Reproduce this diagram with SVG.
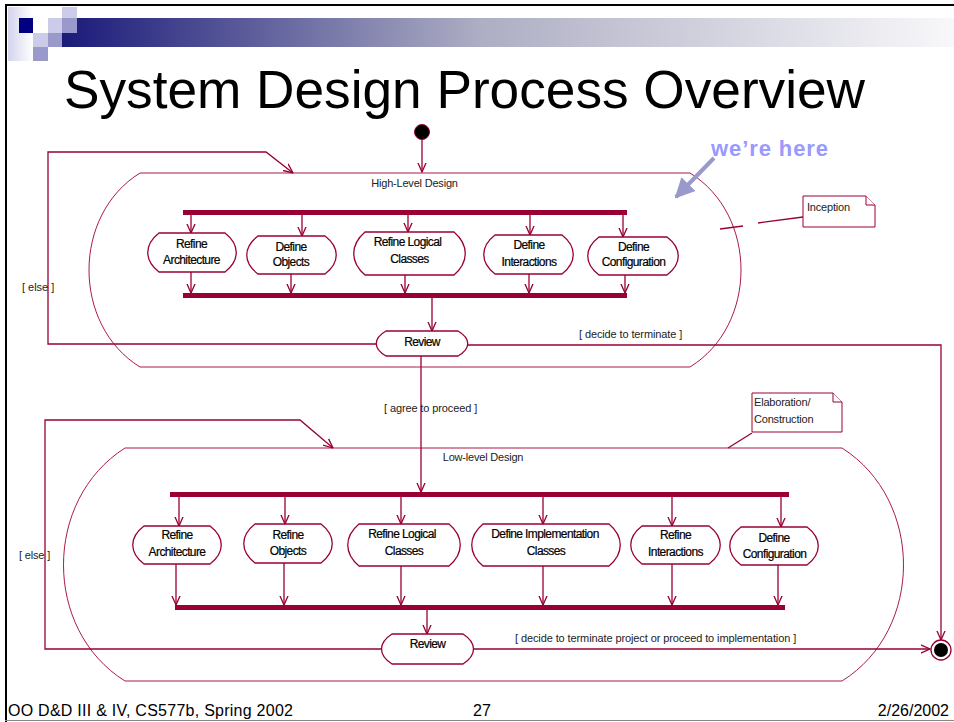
<svg xmlns="http://www.w3.org/2000/svg" width="954" height="722" viewBox="0 0 954 722">
<defs>
<linearGradient id="band" x1="62" y1="0" x2="954" y2="0" gradientUnits="userSpaceOnUse">
<stop offset="0" stop-color="#1a1a7a"/>
<stop offset="0.47" stop-color="#aeaec4"/>
<stop offset="1" stop-color="#f8f8fa"/>
</linearGradient>
<linearGradient id="pale" x1="0" y1="0" x2="1" y2="0">
<stop offset="0" stop-color="#d4d4ec"/>
<stop offset="1" stop-color="#ffffff"/>
</linearGradient>
<marker id="open" viewBox="0 0 10 10" refX="9.5" refY="5" markerWidth="10" markerHeight="10" markerUnits="userSpaceOnUse" orient="auto">
<path d="M0,0.8 L9.5,5 L0,9.2" fill="none" stroke="#990033" stroke-width="1.3"/>
</marker>
<marker id="solid" viewBox="0 0 10 10" refX="9" refY="5" markerWidth="5" markerHeight="5" orient="auto">
<path d="M0,0 L10,5 L0,10 Z" fill="#9999cc"/>
</marker>
</defs>
<style>
.c{fill:none;stroke:#990033;stroke-width:1.3}
.ss{fill:none;stroke:#aa1a4a;stroke-width:1}
.n{fill:#ffffff;stroke:#990033;stroke-width:1.3}
.bar{fill:#990033}
.t{font-family:"Liberation Sans",Arial,sans-serif;font-size:12px;letter-spacing:-0.6px;fill:#000;stroke:#000;stroke-width:0.2px;text-anchor:middle}
.g{font-family:"Liberation Sans",Arial,sans-serif;font-size:11px;letter-spacing:-0.2px;fill:#222}
.note{fill:#ffffff;stroke:#990033;stroke-width:1}
.f{font-family:"Liberation Sans",Arial,sans-serif;font-size:16px;fill:#000}
</style>
<rect width="954" height="722" fill="#ffffff"/>
<!-- slide frame -->
<line x1="5" y1="5" x2="954" y2="5" stroke="#000" stroke-width="2"/>
<line x1="6" y1="4" x2="6" y2="722" stroke="#000" stroke-width="2"/>
<line x1="5" y1="720.5" x2="954" y2="720.5" stroke="#888" stroke-width="1"/>
<!-- logo -->
<rect x="62" y="18" width="892" height="29" fill="url(#band)"/>
<rect x="8" y="7" width="25" height="54" fill="url(#pale)"/>
<rect x="19" y="18" width="14" height="15" fill="#000080"/>
<rect x="33" y="18" width="15" height="15" fill="#ffffff"/>
<rect x="48" y="18" width="14" height="15" fill="#ccccea"/>
<rect x="62" y="7" width="15" height="11" fill="#ccccea"/>
<rect x="62" y="18" width="15" height="15" fill="#9999cc"/>
<rect x="33" y="33" width="15" height="14" fill="#ccccea"/>
<rect x="48" y="33" width="14" height="14" fill="#9999cc"/>
<rect x="33" y="47" width="15" height="14" fill="#9999cc"/>
<!-- title -->
<text x="64" y="108" font-family="&quot;Liberation Sans&quot;,Arial,sans-serif" font-size="53" textLength="801" lengthAdjust="spacingAndGlyphs" fill="#000">System Design Process Overview</text>

<!-- superstates -->
<g id="high-level-design">
<path class="ss" d="M140,173 H690 C758,215 758,325 690,367 H140 C72,325 72,215 140,173 Z"/>
<text x="414.5" y="187" class="g" text-anchor="middle" fill="#333">High-Level Design</text>
</g>
<g id="low-level-design">
<path class="ss" d="M125,448 H842 C924,500 924,630 842,681 H125 C43,630 43,500 125,448 Z"/>
<text x="483" y="461" class="g" text-anchor="middle" fill="#333">Low-level Design</text>
</g>

<!-- connectors -->
<g id="connectors">
<path class="c" d="M422,139 V172" marker-end="url(#open)"/>
<path class="c" d="M191,215 V233" marker-end="url(#open)"/>
<path class="c" d="M302,215 V236" marker-end="url(#open)"/>
<path class="c" d="M408,215 V232" marker-end="url(#open)"/>
<path class="c" d="M530,215 V235" marker-end="url(#open)"/>
<path class="c" d="M623,215 V237" marker-end="url(#open)"/>
<path class="c" d="M191,272 V293" marker-end="url(#open)"/>
<path class="c" d="M291,274 V293" marker-end="url(#open)"/>
<path class="c" d="M405,275 V293" marker-end="url(#open)"/>
<path class="c" d="M529,274 V293" marker-end="url(#open)"/>
<path class="c" d="M625,275 V293" marker-end="url(#open)"/>
<path class="c" d="M432,298 V331" marker-end="url(#open)"/>
<path class="c" d="M376,344 H48 V152 H266 L293,173" marker-end="url(#open)"/>
<path class="c" d="M468,345 H941 V640" marker-end="url(#open)"/>
<path class="c" d="M421,356 V492" marker-end="url(#open)"/>
<path class="c" d="M179,497 V526" marker-end="url(#open)"/>
<path class="c" d="M285,497 V524" marker-end="url(#open)"/>
<path class="c" d="M401,497 V524" marker-end="url(#open)"/>
<path class="c" d="M543,497 V524" marker-end="url(#open)"/>
<path class="c" d="M672,497 V526" marker-end="url(#open)"/>
<path class="c" d="M781,497 V527" marker-end="url(#open)"/>
<path class="c" d="M176,564 V605" marker-end="url(#open)"/>
<path class="c" d="M284,563 V605" marker-end="url(#open)"/>
<path class="c" d="M401,566 V605" marker-end="url(#open)"/>
<path class="c" d="M543,566 V605" marker-end="url(#open)"/>
<path class="c" d="M672,564 V605" marker-end="url(#open)"/>
<path class="c" d="M778,565 V605" marker-end="url(#open)"/>
<path class="c" d="M427,610 V634" marker-end="url(#open)"/>
<path class="c" d="M381,649 H45 V420 H300 L333,448" marker-end="url(#open)"/>
<path class="c" d="M474,649 H930" marker-end="url(#open)"/>
<path class="c" stroke-width="1" d="M803,217 L758,223"/>
<path class="c" stroke-width="1" d="M743,226 L720,229"/>
<path class="c" stroke-width="1" d="M752,433 L728,448"/>
<text class="g" x="22" y="291" textLength="32" lengthAdjust="spacing">[ else ]</text>
<text class="g" x="19" y="559" textLength="31" lengthAdjust="spacing">[ else ]</text>
<text class="g" x="579" y="338" textLength="103" lengthAdjust="spacing">[ decide to terminate ]</text>
<text class="g" x="384" y="412" textLength="93" lengthAdjust="spacing">[ agree to proceed ]</text>
<text class="g" x="515" y="642" textLength="281" lengthAdjust="spacing">[ decide to terminate project or proceed to implementation ]</text>
</g>

<g id="initial">
<circle cx="422" cy="132" r="7.5" fill="#000" stroke="#990033" stroke-width="1"/>
</g>
<g id="final">
<circle cx="941" cy="650" r="10" fill="#fff" stroke="#990033" stroke-width="1.3"/>
<circle cx="941" cy="650" r="7" fill="#000"/>
</g>

<g id="fork-high"><rect class="bar" x="183" y="210" width="444" height="5"/></g>
<g id="join-high"><rect class="bar" x="183" y="293" width="444" height="5"/></g>
<g id="fork-low"><rect class="bar" x="170" y="492" width="619" height="5"/></g>
<g id="join-low"><rect class="bar" x="175" y="605" width="610" height="5"/></g>

<g id="h-refine-architecture">
<path class="n" d="M159,233 H225 C240,244.7 240,260.3 225,272 H159 C144,260.3 144,244.7 159,233 Z"/>
<text class="t" x="191.5" y="248">Refine</text><text class="t" x="191.5" y="264">Architecture</text>
</g>
<g id="h-define-objects">
<path class="n" d="M258,236 H325 C340,247.4 340,262.6 325,274 H258 C243,262.6 243,247.4 258,236 Z"/>
<text class="t" x="291" y="250.5">Define</text><text class="t" x="291" y="266">Objects</text>
</g>
<g id="h-refine-logical-classes">
<path class="n" d="M365,232 H454 C469,244.9 469,262.1 454,275 H365 C350,262.1 350,244.9 365,232 Z"/>
<text class="t" x="407.5" y="246">Refine Logical</text><text class="t" x="409.5" y="262.5">Classes</text>
</g>
<g id="h-define-interactions">
<path class="n" d="M495,235 H562 C577,246.7 577,262.3 562,274 H495 C480,262.3 480,246.7 495,235 Z"/>
<text class="t" x="529" y="249">Define</text><text class="t" x="529" y="266">Interactions</text>
</g>
<g id="h-define-configuration">
<path class="n" d="M599,237 H667 C682,248.4 682,263.6 667,275 H599 C584,263.6 584,248.4 599,237 Z"/>
<text class="t" x="633.5" y="251">Define</text><text class="t" x="633.5" y="266">Configuration</text>
</g>
<g id="h-review">
<path class="n" d="M386,331 H458 C471,338.5 471,348.5 458,356 H386 C373,348.5 373,338.5 386,331 Z"/>
<text class="t" x="422" y="346">Review</text>
</g>

<g id="l-refine-architecture">
<path class="n" d="M144,526 H210 C225,537.4 225,552.6 210,564 H144 C129,552.6 129,537.4 144,526 Z"/>
<text class="t" x="177" y="539">Refine</text><text class="t" x="177" y="555.5">Architecture</text>
</g>
<g id="l-refine-objects">
<path class="n" d="M255,524 H321 C336,535.7 336,551.3 321,563 H255 C240,551.3 240,535.7 255,524 Z"/>
<text class="t" x="288" y="539">Refine</text><text class="t" x="288" y="555">Objects</text>
</g>
<g id="l-refine-logical-classes">
<path class="n" d="M359,524 H449 C464,536.6 464,553.4 449,566 H359 C344,553.4 344,536.6 359,524 Z"/>
<text class="t" x="402" y="538">Refine Logical</text><text class="t" x="404" y="555">Classes</text>
</g>
<g id="l-define-implementation-classes">
<path class="n" d="M483,524 H609 C624,536.6 624,553.4 609,566 H483 C468,553.4 468,536.6 483,524 Z"/>
<text class="t" x="545" y="538">Define Implementation</text><text class="t" x="546" y="555">Classes</text>
</g>
<g id="l-refine-interactions">
<path class="n" d="M642,526 H709 C724,537.4 724,552.6 709,564 H642 C627,552.6 627,537.4 642,526 Z"/>
<text class="t" x="675.5" y="539">Refine</text><text class="t" x="675.5" y="555.5">Interactions</text>
</g>
<g id="l-define-configuration">
<path class="n" d="M741,527 H807 C822,538.4 822,553.6 807,565 H741 C726,553.6 726,538.4 741,527 Z"/>
<text class="t" x="774" y="541.5">Define</text><text class="t" x="774.5" y="557.5">Configuration</text>
</g>
<g id="l-review">
<path class="n" d="M392,634 H463 C477,643 477,655 463,664 H392 C378,655 378,643 392,634 Z"/>
<text class="t" x="427.5" y="648">Review</text>
</g>

<g id="note-inception">
<path class="note" d="M803,196 H866 L875,205 V227 H803 Z"/>
<path class="note" d="M866,196 V205 H875"/>
<text class="g" x="807" y="211">Inception</text>
</g>
<g id="note-elaboration">
<path class="note" d="M752,393 H833 L842,402 V432 H752 Z"/>
<path class="note" d="M833,393 V402 H842"/>
<text class="g" x="754" y="406">Elaboration/</text>
<text class="g" x="754" y="423">Construction</text>
</g>

<g id="were-here">
<text x="711" y="156" font-family="&quot;Liberation Sans&quot;,Arial,sans-serif" font-size="22" font-weight="bold" fill="#9999ff" textLength="117" lengthAdjust="spacing">we’re here</text>
<line x1="714" y1="158" x2="676" y2="197" stroke="#9999cc" stroke-width="4" marker-end="url(#solid)"/>
</g>

<text class="f" x="8" y="716" textLength="285" lengthAdjust="spacing">OO D&amp;D III &amp; IV, CS577b, Spring 2002</text>
<text class="f" x="482" y="716" text-anchor="middle">27</text>
<text class="f" x="949" y="716" text-anchor="end">2/26/2002</text>
</svg>
